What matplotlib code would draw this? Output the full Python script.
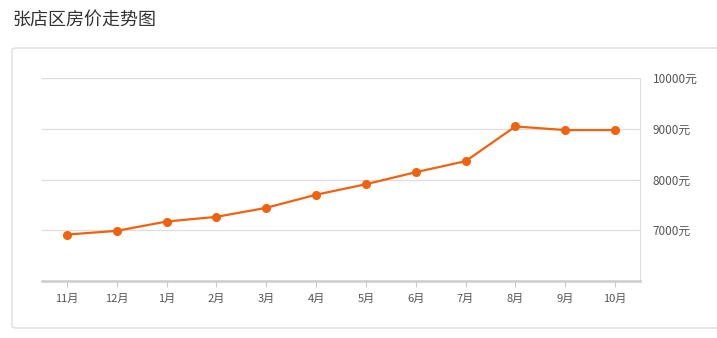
import matplotlib
matplotlib.use("Agg")
import matplotlib.pyplot as plt
from matplotlib.patches import FancyBboxPatch

plt.rcParams['font.family'] = ['Noto Sans CJK SC', 'DejaVu Sans']

months = ['11月', '12月', '1月', '2月', '3月', '4月', '5月', '6月', '7月', '8月', '9月', '10月']
prices = [6915, 6988, 7172, 7264, 7442, 7700, 7907, 8144, 8361, 9045, 8974, 8974]
yticks = [7000, 8000, 9000, 10000]
ytick_labels = ['7000元', '8000元', '9000元', '10000元']

W, H = 717, 338
fig = plt.figure(figsize=(W / 100, H / 100), dpi=100)

# outer panel, behind the axes
panel = FancyBboxPatch((12 / W, (H - 328) / H), 720 / W, 280 / H,
                       boxstyle="round,pad=0,rounding_size=0.006",
                       transform=fig.transFigure, facecolor='white',
                       edgecolor='#dddddd', linewidth=1.0, zorder=-5)
fig.patches.append(panel)

fig.text(12 / W, 1 - 20 / H, '张店区房价走势图', fontsize=13, color='#333333',
         ha='left', va='center')

ax = fig.add_axes([42 / W, (H - 281) / H, (640 - 42) / W, (281 - 78) / H])
ax.set_facecolor('none')
x = range(len(months))
ax.plot(x, prices, color='#f0620f', linewidth=1.6, marker='o', markersize=5.5, zorder=3)

ax.set_xlim(-0.5, len(months) - 0.5)
ax.set_ylim(6000, 10000)
ax.set_xticks(list(x))
ax.set_xticklabels(months, fontsize=8, color='#555555')
ax.yaxis.tick_right()
ax.set_yticks(yticks)
ax.set_yticklabels(ytick_labels, fontsize=8.5, color='#555555')
ax.tick_params(axis='y', length=0, pad=9)
ax.tick_params(axis='x', length=4, color='#cccccc', pad=5)
ax.grid(axis='y', color='#dddddd', linewidth=0.9)
ax.set_axisbelow(True)

for side in ['top', 'left']:
    ax.spines[side].set_visible(False)
ax.spines['right'].set_color('#dddddd')
ax.spines['bottom'].set_color('#cccccc')
ax.spines['bottom'].set_linewidth(1.8)

fig.savefig('out.png', dpi=100)
